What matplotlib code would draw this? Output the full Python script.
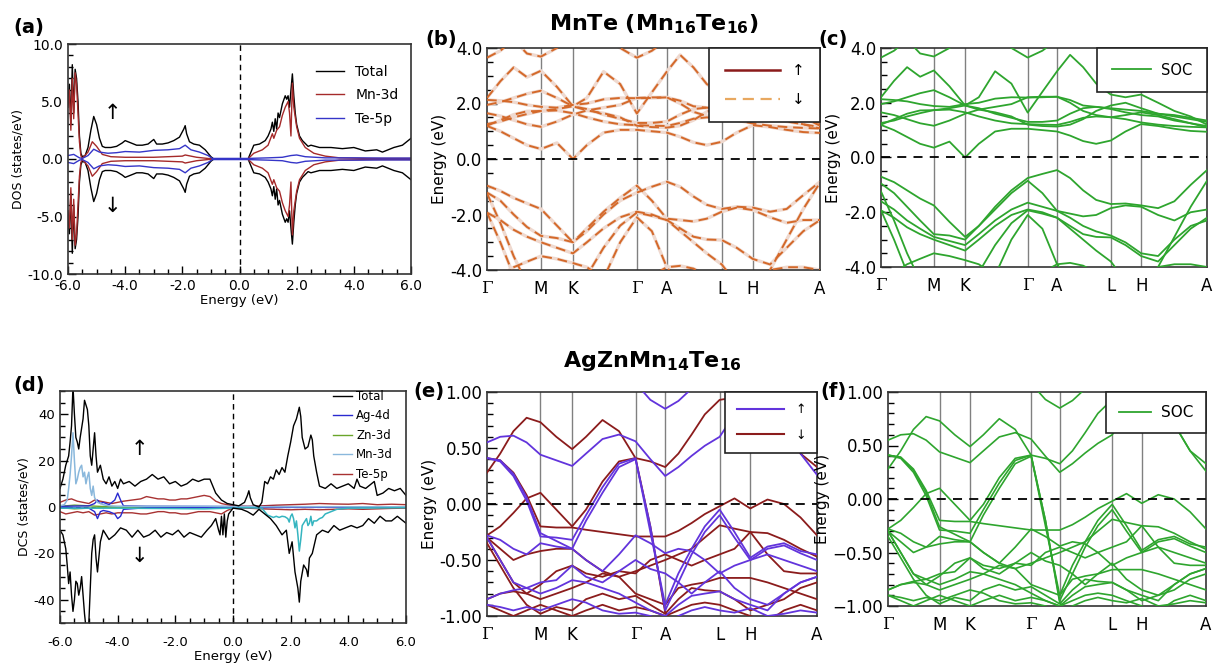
import matplotlib
matplotlib.use('Agg')
import matplotlib.pyplot as plt
from matplotlib.lines import Line2D
from matplotlib.ticker import MultipleLocator, FormatStrFormatter, FuncFormatter

plt.rcParams['font.family'] = ['DejaVu Sans']
plt.rcParams['axes.unicode_minus'] = False
plt.rcParams['mathtext.fontset'] = 'custom'
plt.rcParams['mathtext.rm'] = 'DejaVu Sans:bold'
plt.rcParams['mathtext.bf'] = 'DejaVu Sans:bold'

# ---------------- DOS data ----------------
# (a) MnTe, spin-up channel (spin-down is drawn mirrored)
a_tot_e = [-6.0, -5.95, -5.9, -5.85, -5.8, -5.75, -5.7, -5.65, -5.6, -5.55,
           -5.5, -5.4, -5.3, -5.2, -5.1, -5.0, -4.9, -4.8, -4.7, -4.5,
           -4.3, -4.1, -4.0, -3.8, -3.6, -3.4, -3.2, -3.0, -2.9, -2.7,
           -2.5, -2.3, -2.1, -1.95, -1.9, -1.85, -1.75, -1.6, -1.4, -1.2,
           -1.0, -0.9, 0.3, 0.4, 0.5, 0.7, 0.9, 1.0, 1.1, 1.15,
           1.2, 1.25, 1.3, 1.35, 1.4, 1.5, 1.6, 1.65, 1.7, 1.75,
           1.8, 1.85, 1.9, 1.95, 2.0, 2.1, 2.2, 2.4, 2.5, 2.8,
           3.2, 3.6, 4.0, 4.4, 4.8, 5.0, 5.4, 5.7, 6.0]
a_tot = [5.0, 6.5, 3.0, 8.2, 4.0, 7.8, 7.0, 5.0, 2.0, 0.5,
         0.2, 0.3, 1.0, 2.5, 3.7, 3.0, 1.8, 1.1, 1.0, 1.0,
         1.1, 1.4, 1.6, 1.4, 1.2, 1.2, 1.3, 1.7, 1.3, 1.3,
         1.4, 1.6, 1.9, 2.6, 2.9, 2.2, 1.5, 1.3, 1.2, 0.8,
         0.2, 0.0, 0.0, 0.6, 1.2, 1.3, 1.6, 2.0, 2.6, 3.2,
         2.4, 3.5, 2.6, 4.0, 3.6, 4.8, 5.5, 5.2, 5.5, 4.5,
         6.0, 7.4, 5.5, 4.0, 3.0, 2.0, 1.6, 1.1, 1.2, 1.0,
         1.0, 0.9, 1.0, 0.7, 0.8, 0.6, 1.0, 1.2, 1.8]
a_mn_e = [-6.0, -5.95, -5.9, -5.85, -5.8, -5.75, -5.7, -5.65, -5.6, -5.55,
          -5.5, -5.3, -5.15, -5.0, -4.8, -4.5, -4.0, -3.0, -2.0, -1.9,
          -1.5, -1.0, 0.3, 0.5, 0.8, 1.0, 1.15, 1.2, 1.3, 1.4,
          1.5, 1.6, 1.7, 1.75, 1.8, 1.85, 1.9, 2.0, 2.1, 2.3,
          2.6, 3.0, 3.5, 4.5, 6.0]
a_mn = [4.5, 6.0, 2.5, 7.0, 3.5, 7.5, 6.5, 4.0, 1.5, 0.3,
        0.05, 0.6, 1.5, 1.1, 0.4, 0.2, 0.15, 0.15, 0.25, 0.35,
        0.15, 0.02, 0.02, 0.5, 0.8, 1.2, 2.2, 1.8, 2.5, 2.8,
        3.8, 4.5, 5.0, 4.0, 2.0, 6.6, 4.5, 2.8, 1.8, 1.0,
        0.5, 0.25, 0.1, 0.05, 0.05]
a_te_e = [-6.0, -5.8, -5.6, -5.5, -5.3, -5.1, -4.9, -4.6, -4.3, -4.0,
          -3.5, -3.0, -2.5, -2.1, -1.9, -1.7, -1.4, -1.1, -0.95, 0.3,
          1.0, 1.5, 1.8, 2.0, 2.3, 3.0, 4.0, 5.0, 6.0]
a_te = [0.3, 0.4, 0.1, 0.05, 0.3, 0.85, 0.6, 0.5, 0.55, 0.65,
        0.6, 0.75, 0.8, 0.9, 1.2, 0.8, 0.6, 0.3, 0.05, 0.05,
        0.1, 0.15, 0.3, 0.35, 0.2, 0.1, 0.1, 0.08, 0.08]

# (d) AgZnMn14Te16
d_tot_up_e = [-6.0, -5.9, -5.8, -5.7, -5.65, -5.6, -5.55, -5.5, -5.45, -5.4,
              -5.35, -5.3, -5.2, -5.15, -5.1, -5.05, -5.0, -4.95, -4.9, -4.85,
              -4.8, -4.75, -4.7, -4.6, -4.5, -4.4, -4.3, -4.2, -4.1, -4.0,
              -3.9, -3.8, -3.6, -3.4, -3.2, -3.0, -2.8, -2.6, -2.4, -2.2,
              -2.0, -1.8, -1.6, -1.4, -1.2, -1.0, -0.8, -0.7, -0.6, -0.4,
              -0.2, 0.0, 0.2, 0.4, 0.5, 0.55, 0.6, 0.7, 0.8, 0.9,
              1.0, 1.1, 1.2, 1.3, 1.4, 1.5, 1.6, 1.7, 1.8, 1.9,
              2.0, 2.1, 2.2, 2.3, 2.35, 2.4, 2.5, 2.6, 2.7, 2.75,
              2.8, 2.9, 3.0, 3.2, 3.4, 3.6, 3.8, 4.0, 4.2, 4.3,
              4.4, 4.6, 4.8, 4.9, 5.0, 5.2, 5.4, 5.6, 5.8, 6.0]
d_tot_up = [8, 12, 18, 22, 28, 35, 52, 40, 30, 28,
            25, 30, 38, 46, 44, 42, 35, 22, 18, 25,
            32, 22, 15, 18, 12, 10, 13, 9, 11, 8,
            12, 10, 11, 9, 11, 12, 14, 12, 13, 10,
            11, 9, 10, 12, 11, 12, 12, 9, 6, 3,
            1.5, 1, 0.5, 2, 5, 7, 4, 1, 0.5, 0,
            2, 11, 10, 13, 12, 16, 14, 17, 15, 22,
            28, 35, 38, 43, 39, 30, 25, 26, 31, 29,
            22, 15, 9, 8, 10, 8, 9, 10, 8, 12,
            9, 8, 10, 11, 5, 6, 8, 7, 8, 5]
d_tot_dn_e = [-6.0, -5.9, -5.8, -5.75, -5.7, -5.65, -5.6, -5.55, -5.5, -5.45,
              -5.4, -5.35, -5.3, -5.25, -5.2, -5.15, -5.1, -5.05, -5.0, -4.95,
              -4.9, -4.85, -4.8, -4.75, -4.7, -4.6, -4.5, -4.3, -4.1, -3.9,
              -3.7, -3.5, -3.3, -3.1, -2.9, -2.7, -2.5, -2.3, -2.1, -1.9,
              -1.7, -1.5, -1.3, -1.1, -0.9, -0.75, -0.6, -0.5, -0.45, -0.4,
              -0.35, -0.3, -0.25, -0.2, -0.15, 0.0, 0.3, 0.5, 0.7, 0.9,
              1.0, 1.1, 1.3, 1.5, 1.7, 1.85, 1.95, 2.05, 2.15, 2.25,
              2.3, 2.35, 2.45, 2.55, 2.6, 2.65, 2.75, 2.9, 3.1, 3.3,
              3.5, 3.7, 3.9, 4.1, 4.3, 4.5, 4.7, 4.9, 5.1, 5.3,
              5.5, 5.7, 6.0]
d_tot_dn = [-10, -12, -18, -25, -33, -28, -38, -45, -40, -32,
            -33, -38, -35, -30, -38, -46, -52, -52, -50, -35,
            -20, -14, -12, -22, -28, -15, -10, -14, -12, -9,
            -10, -13, -10, -13, -12, -10, -13, -11, -12, -10,
            -13, -11, -12, -13, -10, -8, -5, -10, -12, -4,
            -12, -3, -13, -6, -3, -0.5, -1, -2, -3.5, -1,
            -2, -3, -5, -8, -12, -10, -20, -15, -28, -35,
            -41, -32, -25, -27, -30, -22, -20, -12, -10, -11,
            -8, -10, -9, -8, -9, -8, -5, -7, -4, -6,
            -6, -4, -7]
d_mn_up_e = [-6.0, -5.85, -5.75, -5.7, -5.65, -5.6, -5.55, -5.5, -5.45, -5.4,
             -5.35, -5.3, -5.25, -5.2, -5.15, -5.1, -5.05, -5.0, -4.95, -4.9,
             -4.85, -4.8, -4.7, -4.6, -4.5, -4.3, -4.0, -3.0, -2.0, -1.0,
             0.0, 1.0, 3.0, 6.0]
d_mn_up = [0.5, 1, 3, 8, 14, 22, 32, 20, 10, 12,
           15, 17, 18, 13, 15, 10, 13, 15, 8, 5,
           9, 4, 2, 1.5, 1, 0.5, 0.3, 0.3, 0.3, 0.3,
           0.2, 0.1, 0.1, 0.1]
d_mn_dn_e = [-6.0, -4.0, -1.0, 0.5, 1.0, 1.1, 1.2, 1.3, 1.4, 1.5,
             1.6, 1.7, 1.8, 1.9, 1.95, 2.0, 2.05, 2.1, 2.15, 2.2,
             2.25, 2.3, 2.35, 2.4, 2.5, 2.55, 2.6, 2.65, 2.7, 2.75,
             2.8, 2.9, 3.0, 3.1, 3.2, 3.4, 3.6, 4.0, 6.0]
d_mn_dn = [-0.5, -0.5, -0.8, -0.3, -0.5, -2, -3.5, -4, -4.5, -4,
           -4.5, -4, -4.2, -5, -6.5, -4, -3, -5, -9, -6,
           -12, -19, -14, -8, -6, -5, -8, -7, -4, -8,
           -6, -6, -5, -4.5, -3, -2, -1, -0.5, -0.3]
d_te_e = [-6.0, -5.8, -5.6, -5.4, -5.2, -5.0, -4.8, -4.6, -4.4, -4.2,
          -4.0, -3.8, -3.5, -3.2, -3.0, -2.8, -2.6, -2.4, -2.2, -2.0,
          -1.8, -1.6, -1.4, -1.2, -1.0, -0.8, -0.6, -0.4, -0.2, 0.0,
          0.5, 1.0, 1.5, 2.0, 2.5, 3.0, 3.5, 4.0, 4.5, 5.0, 5.5, 6.0]
d_te_up = [2, 3, 3.5, 2.5, 2, 1.5, 3, 2.5, 2, 1.5,
           2, 2.5, 3, 3.5, 4.5, 4, 3.5, 3.5, 3, 3,
           3.5, 3.5, 4, 4.5, 5, 4.5, 2.5, 1.5, 1, 0.5,
           0.3, 0.5, 0.8, 1, 1.2, 1.5, 1.3, 1.2, 1.5, 1, 1.2, 1]
d_te_dn = [-2, -3, -2.5, -2, -2.5, -2, -3.5, -3, -2.5, -3,
           -2.5, -2.5, -2.5, -3, -3, -2.5, -2, -2, -2.5, -2.5,
           -3, -3, -2.5, -2, -2, -2, -2.5, -3, -1.5, -0.5,
           -0.5, -0.8, -1, -1.2, -1, -1.2, -1, -0.8, -1, -0.8, -0.6, -0.5]
d_ag_e = [-6.0, -5.0, -4.8, -4.7, -4.6, -4.5, -4.3, -4.1, -4.0, -3.9, -3.8, -3.0, 0.0, 6.0]
d_ag_up = [0.3, 0.5, 1.5, 3, 1.5, 2, 1, 3, 6, 3, 0.5, 0.3, 0.2, 0.1]
d_ag_dn = [-0.3, -0.5, -2, -5, -2, -1.5, -2, -3, -5, -4, -1, -0.3, -0.2, -0.1]
d_zn_e = [-6.0, -5.5, -5.0, -4.5, 0.0, 6.0]
d_zn_up = [0.3, 0.8, 0.5, 0.2, 0.1, 0.1]
d_zn_dn = [-0.3, -0.8, -0.5, -0.2, -0.1, -0.1]

# ---------------- band data ----------------
kpath = [0.0, 0.162, 0.258, 0.45, 0.54, 0.705, 0.798, 1.0]
klabels = ['Γ', 'M', 'K', 'Γ', 'A', 'L', 'H', 'A']
kgrid = [0.0, 0.04, 0.08, 0.12, 0.162, 0.21, 0.258, 0.30, 0.35, 0.40, 0.45,
         0.495, 0.54, 0.58, 0.62, 0.66, 0.705, 0.75, 0.798, 0.85, 0.90, 0.95, 1.0]

# MnTe conduction bands (eV), sampled on kgrid; shared by both MnTe panels
mnte_cb = [
    [1.19, 1.0, 0.75, 0.5, 0.36, 0.58, 0.0, 0.5, 0.95, 1.05, 1.05, 1.0, 0.95, 0.8, 0.6, 0.5, 0.62, 0.95, 1.22, 1.15, 1.05, 0.97, 0.94],
    [1.26, 1.35, 1.5, 1.62, 1.73, 1.75, 1.65, 1.5, 1.35, 1.25, 1.22, 1.2, 1.19, 1.3, 1.45, 1.5, 1.47, 1.4, 1.28, 1.2, 1.15, 1.12, 1.1],
    [1.65, 1.55, 1.4, 1.25, 1.16, 1.35, 1.6, 1.75, 1.85, 1.95, 2.2, 2.22, 2.22, 2.0, 1.7, 1.55, 1.47, 1.55, 1.65, 1.55, 1.4, 1.25, 1.1],
    [1.2, 1.4, 1.6, 1.72, 1.73, 1.8, 1.9, 1.8, 1.6, 1.45, 1.3, 1.3, 1.35, 1.6, 1.8, 1.85, 1.77, 1.65, 1.55, 1.5, 1.35, 1.25, 1.15],
    [2.13, 2.1, 2.05, 1.95, 1.88, 1.85, 1.95, 2.0, 2.15, 2.2, 2.19, 2.2, 2.22, 2.1, 1.9, 1.85, 1.8, 1.75, 1.7, 1.6, 1.55, 1.45, 1.35],
    [1.95, 2.05, 2.2, 2.35, 2.46, 2.2, 1.9, 1.75, 1.65, 1.5, 1.2, 1.15, 1.13, 1.2, 1.4, 1.7, 1.9, 2.0, 1.8, 1.6, 1.5, 1.4, 1.3],
    [2.2, 2.8, 3.3, 2.95, 3.18, 2.6, 1.9, 2.2, 3.15, 2.7, 1.64, 2.4, 3.15, 3.75, 3.3, 2.7, 2.3, 2.2, 2.3, 2.0, 1.7, 1.5, 1.2],
    [3.65, 3.9, 4.3, 3.8, 3.69, 4.0, 4.4, 4.5, 4.4, 4.0, 3.65, 3.9, 4.3, 4.5, 4.5, 4.5, 4.5, 4.5, 4.5, 4.5, 4.5, 4.5, 4.5],
]
# deeper valence bands common to both MnTe panels
mnte_vb_deep = [
    [-1.93, -2.2, -2.55, -2.8, -3.0, -3.2, -3.4, -3.0, -2.5, -2.1, -1.9, -2.0, -2.2, -2.5, -2.8, -2.9, -2.92, -3.2, -3.6, -3.8, -3.2, -2.6, -2.2],
    [-1.24, -2.3, -3.5, -4.5, -5.0, -5.0, -5.0, -4.2, -3.2, -2.4, -1.93, -2.05, -2.2, -2.6, -3.0, -3.4, -3.8, -4.5, -5.0, -5.0, -5.0, -5.0, -5.0],
    [-1.93, -3.0, -4.2, -5.0, -5.0, -5.0, -5.0, -5.0, -4.3, -3.0, -2.1, -2.6, -3.9, -4.5, -5.0, -5.0, -5.0, -5.0, -5.0, -4.0, -2.9, -1.8, -0.85],
    [-4.5, -4.2, -3.9, -3.7, -3.5, -3.6, -3.75, -3.9, -4.3, -4.6, -4.5, -4.2, -3.9, -3.85, -3.95, -4.2, -4.5, -4.5, -4.3, -4.0, -3.9, -3.9, -4.0],
]
# top valence bands without and with spin-orbit coupling
mnte_vb_top = [
    [-0.96, -1.15, -1.4, -1.6, -1.8, -2.4, -3.0, -2.6, -2.0, -1.5, -1.21, -1.0, -0.82, -1.0, -1.35, -1.65, -1.8, -1.72, -1.75, -1.9, -1.8, -1.3, -0.82],
    [-1.21, -1.5, -2.0, -2.45, -2.77, -2.85, -3.0, -2.5, -1.9, -1.4, -0.96, -1.5, -2.15, -2.2, -2.25, -2.15, -1.9, -1.75, -1.84, -2.1, -2.3, -2.2, -2.2],
]
mnte_soc_vb_top = [
    [-0.7, -0.9, -1.2, -1.5, -1.75, -2.35, -2.9, -2.5, -1.8, -1.2, -0.75, -0.6, -0.46, -0.75, -1.2, -1.55, -1.7, -1.68, -1.75, -1.85, -1.6, -1.0, -0.46],
    [-0.95, -1.3, -1.8, -2.3, -2.8, -2.85, -3.0, -2.5, -1.9, -1.3, -0.85, -1.3, -1.95, -2.05, -2.15, -2.1, -1.85, -1.75, -1.8, -2.1, -2.3, -2.0, -1.9],
    [-1.6, -1.9, -2.3, -2.6, -2.9, -3.05, -3.2, -2.8, -2.3, -1.9, -1.65, -1.8, -1.95, -2.2, -2.5, -2.7, -2.85, -3.1, -3.5, -3.6, -3.0, -2.5, -2.3],
]

# AgZnMn14Te16 bands (eV): spin up and spin down
agzn_up = [
    [0.55, 0.6, 0.61, 0.55, 0.44, 0.39, 0.34, 0.45, 0.58, 0.62, 0.56, 0.4, 0.25, 0.33, 0.43, 0.52, 0.6, 0.8, 1.0, 1.05, 0.7, 0.45, 0.26],
    [1.3, 1.35, 1.4, 1.4, 1.35, 1.3, 1.3, 1.25, 1.2, 1.15, 1.08, 0.93, 0.85, 0.92, 1.03, 1.15, 1.2, 1.2, 1.2, 1.2, 1.2, 1.2, 1.2],
    [0.41, 0.38, 0.25, 0.03, -0.29, -0.3, -0.32, -0.1, 0.15, 0.36, 0.41, -0.25, -0.9, -0.62, -0.4, -0.2, -0.05, -0.25, -0.48, -0.38, -0.35, -0.42, -0.45],
    [0.41, 0.39, 0.27, 0.06, -0.26, -0.33, -0.4, -0.15, 0.1, 0.33, 0.4, -0.2, -0.95, -0.7, -0.45, -0.25, -0.1, -0.3, -0.5, -0.4, -0.37, -0.44, -0.5],
    [-0.28, -0.32, -0.4, -0.45, -0.35, -0.38, -0.4, -0.5, -0.6, -0.45, -0.28, -0.35, -0.44, -0.4, -0.42, -0.5, -0.62, -0.55, -0.5, -0.45, -0.5, -0.55, -0.6],
    [-0.3, -0.5, -0.7, -0.75, -0.7, -0.68, -0.55, -0.65, -0.7, -0.6, -0.5, -0.58, -0.62, -0.7, -0.8, -0.7, -0.6, -0.75, -0.85, -0.9, -0.8, -0.7, -0.65],
    [-0.85, -0.8, -0.77, -0.75, -0.8, -0.75, -0.68, -0.7, -0.75, -0.8, -0.88, -0.95, -1.0, -0.9, -0.82, -0.8, -0.78, -0.85, -0.9, -0.95, -0.8, -0.7, -0.65],
    [-0.9, -0.92, -0.95, -0.92, -0.95, -0.9, -0.85, -0.88, -0.95, -0.98, -0.97, -1.0, -1.05, -1.0, -0.95, -0.92, -0.95, -0.97, -0.93, -1.0, -0.98, -0.95, -0.97],
]
agzn_dn = [
    [0.28, 0.45, 0.65, 0.77, 0.73, 0.6, 0.49, 0.6, 0.75, 0.65, 0.41, 0.38, 0.33, 0.45, 0.62, 0.8, 0.93, 0.95, 1.0, 0.9, 0.7, 0.45, 0.33],
    [0.41, 0.39, 0.28, 0.08, -0.2, -0.21, -0.21, -0.23, -0.25, -0.27, -0.29, -0.29, -0.29, -0.24, -0.17, -0.09, -0.02, 0.05, -0.04, 0.04, 0.0, -0.12, -0.28],
    [-0.28, -0.2, -0.08, 0.05, 0.1, -0.05, -0.2, -0.05, 0.2, 0.38, 0.41, -0.2, -0.97, -1.1, -1.1, -1.1, -1.1, -1.1, -1.1, -1.1, -1.1, -1.1, -1.1],
    [-0.3, -0.4, -0.5, -0.45, -0.42, -0.4, -0.4, -0.5, -0.6, -0.65, -0.6, -0.55, -0.5, -0.45, -0.4, -0.3, -0.19, -0.22, -0.25, -0.26, -0.32, -0.4, -0.47],
    [-0.3, -0.5, -0.7, -0.8, -0.72, -0.6, -0.55, -0.62, -0.65, -0.6, -0.62, -0.5, -0.45, -0.5, -0.55, -0.5, -0.45, -0.4, -0.25, -0.45, -0.6, -0.62, -0.62],
    [-0.85, -0.8, -0.78, -0.8, -0.85, -0.8, -0.75, -0.7, -0.62, -0.65, -0.8, -0.85, -0.9, -0.75, -0.72, -0.7, -0.66, -0.66, -0.66, -0.7, -0.75, -0.8, -0.85],
    [-0.35, -0.55, -0.75, -0.9, -0.98, -0.92, -0.95, -0.85, -0.8, -0.85, -0.82, -0.9, -0.98, -0.85, -0.75, -0.77, -0.78, -0.85, -0.95, -0.9, -0.85, -0.75, -0.7],
    [-0.9, -0.95, -1.0, -0.95, -0.9, -0.95, -1.0, -0.95, -0.9, -0.95, -0.92, -0.95, -1.0, -0.95, -0.9, -0.88, -0.9, -0.95, -1.0, -1.05, -0.95, -0.9, -0.95],
]

W, H = 1217, 668
fig = plt.figure(figsize=(W / 100, H / 100), dpi=100)


def add_ax(left, top, right, bottom):
    # axes placed in pixel coordinates measured from the top-left corner
    return fig.add_axes([left / W, 1 - bottom / H, (right - left) / W, (bottom - top) / H])


def style_spines(ax):
    for s in ax.spines.values():
        s.set_color('#333333')
        s.set_linewidth(1.2)


def dos_axes(ax, ylim, ymaj, ymin, yfmt, ylabel, tsize, xpad):
    ax.set_xlim(-6, 6)
    ax.set_ylim(*ylim)
    ax.xaxis.set_major_locator(MultipleLocator(2.0))
    ax.xaxis.set_minor_locator(MultipleLocator(0.5))
    ax.yaxis.set_major_locator(MultipleLocator(ymaj))
    ax.yaxis.set_minor_locator(MultipleLocator(ymin))
    ax.xaxis.set_major_formatter(FormatStrFormatter('%.1f'))
    ax.yaxis.set_major_formatter(FormatStrFormatter(yfmt))
    ax.tick_params(which='both', direction='in', top=False, right=False, labelsize=tsize)
    ax.tick_params(which='major', length=6, width=1)
    ax.tick_params(which='minor', length=3.5, width=1)
    ax.tick_params(axis='x', pad=xpad)
    ax.axvline(0, color='black', lw=1.0, ls=(0, (4, 3)), zorder=1)
    ax.set_xlabel('Energy (eV)', fontsize=9.5, labelpad=1)
    ax.set_ylabel(ylabel, fontsize=9, labelpad=2)
    style_spines(ax)


def band_axes(ax, ylim, ymaj, ymin, fmt):
    ax.set_xlim(kpath[0], kpath[-1])
    ax.set_ylim(*ylim)
    for kx in kpath[1:-1]:
        ax.axvline(kx, color='#808080', lw=1.0, zorder=1)
    ax.axhline(0, color='black', lw=1.3, ls=(0, (5, 4)), zorder=4)
    ax.set_xticks(kpath)
    ax.set_xticklabels(klabels)
    for lbl in ax.get_xticklabels():
        if lbl.get_text() == 'Γ':
            lbl.set_family('DejaVu Serif')
    ax.tick_params(axis='x', length=0, pad=7, labelsize=12)
    ax.yaxis.set_major_locator(MultipleLocator(ymaj))
    ax.yaxis.set_minor_locator(MultipleLocator(ymin))
    ax.yaxis.set_major_formatter(fmt)
    ax.tick_params(axis='y', which='both', direction='in', right=False, labelsize=12)
    ax.tick_params(axis='y', which='major', length=7, width=1)
    ax.tick_params(axis='y', which='minor', length=4, width=1)
    ax.set_ylabel('Energy (eV)', fontsize=11, labelpad=2)
    style_spines(ax)


def box_legend(ax, handles, labels, size, **kw):
    leg = ax.legend(handles, labels, loc='upper right', borderaxespad=0, fancybox=False,
                    framealpha=1, edgecolor='#222222', fontsize=size, **kw)
    leg.get_frame().set_linewidth(1.2)
    leg.set_zorder(10)
    return leg


# ---- (a) MnTe DOS ----
ax_a = add_ax(68, 44, 411, 274)
dos_axes(ax_a, (-10, 10), 5.0, 1.0, '%.1f', 'DOS (states/eV)', 10, 3.5)
for e, d, c, lab in [(a_tot_e, a_tot, 'black', 'Total'),
                     (a_mn_e, a_mn, '#a52a2a', 'Mn-3d'),
                     (a_te_e, a_te, '#3535c8', 'Te-5p')]:
    ax_a.plot(e, d, color=c, lw=1.0, label=lab)
    ax_a.plot(e, [-v for v in d], color=c, lw=1.0)
ax_a.text(-4.43, 4.0, '↑', fontsize=15, ha='center', va='center')
ax_a.text(-4.43, -4.1, '↓', fontsize=15, ha='center', va='center')
ax_a.legend(loc='upper right', frameon=False, fontsize=10, handlelength=2.0,
            labelspacing=0.7, bbox_to_anchor=(1.0, 0.965))

# ---- (d) AgZnMn14Te16 DOS ----
ax_d = add_ax(60, 391, 406, 623)
dos_axes(ax_d, (-50, 50), 20, 5, '%d', 'DCS (states/eV)', 9.5, 9)
ax_d.axhline(0, color='black', lw=0.8, ls=(0, (4, 3)), zorder=1)
ax_d.plot(d_te_e, d_te_up, color='#a83232', lw=1.0)
ax_d.plot(d_te_e, d_te_dn, color='#a83232', lw=1.0)
ax_d.plot(d_zn_e, d_zn_up, color='#6aa52a', lw=1.0)
ax_d.plot(d_zn_e, d_zn_dn, color='#6aa52a', lw=1.0)
ax_d.plot(d_ag_e, d_ag_up, color='#2a2ad0', lw=1.0)
ax_d.plot(d_ag_e, d_ag_dn, color='#2a2ad0', lw=1.0)
ax_d.plot(d_mn_up_e, d_mn_up, color='#8ab8dc', lw=1.1)
ax_d.plot(d_mn_dn_e, d_mn_dn, color='#35b5c0', lw=1.1)
ax_d.plot(d_tot_up_e, d_tot_up, color='black', lw=1.0)
ax_d.plot(d_tot_dn_e, d_tot_dn, color='black', lw=1.0)
ax_d.text(-3.23, 25, '↑', fontsize=15, ha='center', va='center')
ax_d.text(-3.23, -21, '↓', fontsize=15, ha='center', va='center')
d_handles = [Line2D([], [], color=c, lw=1.0) for c in
             ['black', '#2a2ad0', '#6aa52a', '#8ab8dc', '#a83232']]
ax_d.legend(d_handles, ['Total', 'Ag-4d', 'Zn-3d', 'Mn-3d', 'Te-5p'], loc='upper right',
            frameon=False, fontsize=8.5, handlelength=1.6, handletextpad=0.4,
            labelspacing=0.55, borderaxespad=0.1, bbox_to_anchor=(0.98, 1.03))

fmt1 = FormatStrFormatter('%.1f')

# ---- (b) MnTe bands, spin up / spin down ----
ax_b = add_ax(487, 48, 820, 270)
band_axes(ax_b, (-4, 4), 2.0, 0.5, fmt1)
for band in mnte_cb + mnte_vb_top + mnte_vb_deep:
    ax_b.plot(kgrid, band, color='#efd9cf', lw=2.4, zorder=2, solid_capstyle='round')
    ax_b.plot(kgrid, band, color='#d4692a', lw=1.4, ls=(0, (5, 3)), zorder=3)
box_legend(ax_b, [Line2D([], [], color='#8b1a1a', lw=1.8),
                  Line2D([], [], color='#e8a860', lw=1.6, ls=(0, (5, 3)))],
           ['↑', '↓'], 11, handlelength=3.6, handletextpad=0.8, borderpad=1.0,
           labelspacing=0.9)
ax_b.set_title(r'MnTe (Mn$_{\mathbf{16}}$Te$_{\mathbf{16}}$)', fontsize=16,
               fontweight='bold', pad=13)

# ---- (c) MnTe bands with SOC ----
ax_c = add_ax(881, 48, 1207, 267)
band_axes(ax_c, (-4, 4), 2.0, 0.5, fmt1)
for band in mnte_cb + mnte_soc_vb_top + mnte_vb_deep:
    ax_c.plot(kgrid, band, color='#2ea52e', lw=1.3, zorder=3)
box_legend(ax_c, [Line2D([], [], color='#2ea52e', lw=1.3)], ['SOC'], 10.5,
           handlelength=2.7, borderpad=1.0, handletextpad=0.7)

fmt2 = FormatStrFormatter('%.2f')
fmt2m = FuncFormatter(lambda v, p: ('%.2f' % v).replace('-', '\u2212'))

# ---- (e) AgZnMn14Te16 bands ----
ax_e = add_ax(487, 392, 817, 616)
band_axes(ax_e, (-1, 1), 0.5, 0.1, fmt2)
for band in agzn_dn:
    ax_e.plot(kgrid, band, color='#8b1c1c', lw=1.3, zorder=3)
for band in agzn_up:
    ax_e.plot(kgrid, band, color='#6234dc', lw=1.3, zorder=3)
box_legend(ax_e, [Line2D([], [], color='#6234dc', lw=1.5),
                  Line2D([], [], color='#8b1c1c', lw=1.5)],
           ['↑', '↓'], 9, handlelength=3.8, handletextpad=0.9, borderpad=0.9,
           labelspacing=1.0)
ax_e.set_title(r'AgZnMn$_{\mathbf{14}}$Te$_{\mathbf{16}}$', fontsize=16,
               fontweight='bold', pad=18)

# ---- (f) AgZnMn14Te16 bands with SOC ----
ax_f = add_ax(888, 392, 1206, 606)
band_axes(ax_f, (-1, 1), 0.5, 0.1, fmt2m)
for band in agzn_up + agzn_dn:
    ax_f.plot(kgrid, band, color='#2ea52e', lw=1.2, zorder=3)
box_legend(ax_f, [Line2D([], [], color='#2ea52e', lw=1.3)], ['SOC'], 11,
           handlelength=2.1, borderpad=0.85, handletextpad=0.6)

# panel letters
for txt, x, y in [('(a)', 13, 27), ('(b)', 425, 40), ('(c)', 818, 39),
                  ('(d)', 13, 385), ('(e)', 413, 391), ('(f)', 820, 391)]:
    fig.text(x / W, 1 - y / H, txt, fontsize=14, fontweight='bold', va='center', ha='left')

fig.savefig('out.png', dpi=100, facecolor='white')
